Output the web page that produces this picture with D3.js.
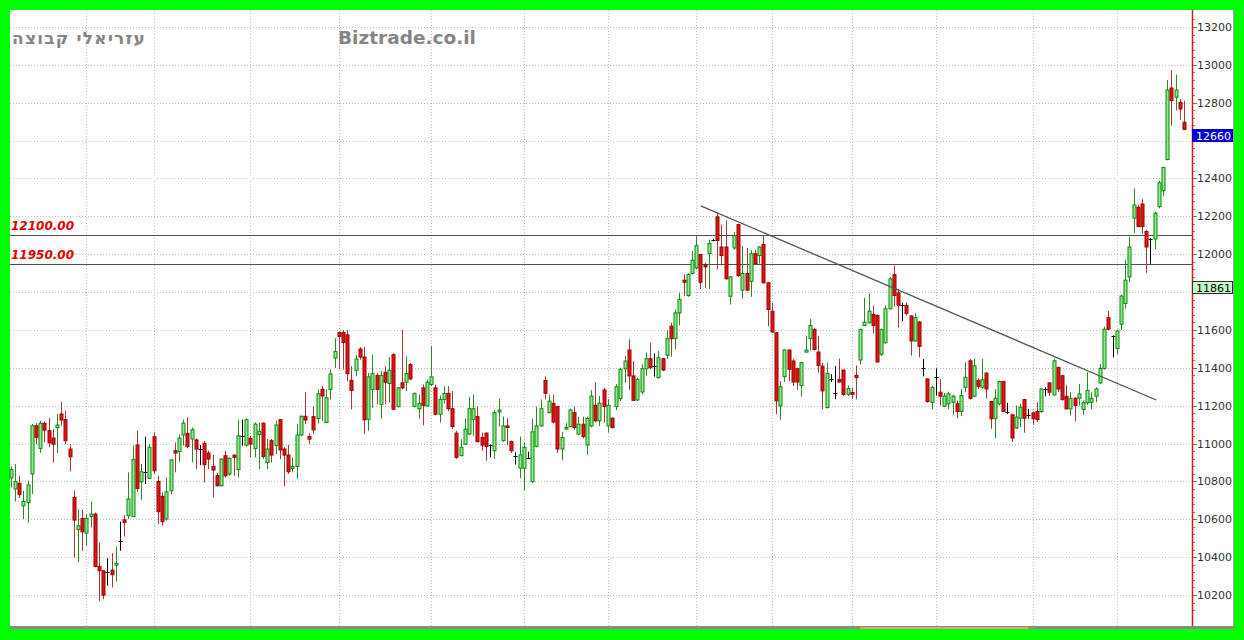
<!DOCTYPE html>
<html><head><meta charset="utf-8">
<script src="https://cdn.jsdelivr.net/npm/d3@7"></script>
<style>body{margin:0;background:#00ff00;overflow:hidden}svg{display:block}</style>
</head><body><svg id="c" width="1244" height="640"></svg>
<script>
// ---- data ----
const opens = [10818,10760,10790,10671,10689,10839,11094,10974,11107,11068,11029,11084,11156,11126,10971,10715,10545,10604,10527,10615,10627,10351,10328,10320,10331,10358,10485,10597,10619,10615,10992,10798,10851,10816,11036,10800,10721,10601,10751,10962,10957,11045,11054,11024,11019,10971,11001,10950,10879,10830,10777,10936,10839,10939,10862,11041,10992,11027,10974,11047,11107,10900,11015,10989,11126,10971,10939,10869,10879,11045,11144,11037,11142,11132,11286,11111,11286,11452,11586,11586,11574,11334,11387,11499,11457,11128,11286,11359,11207,11376,11317,11469,11195,11321,11324,11417,11195,11184,11294,11198,11312,11294,11155,11233,11265,11184,11055,10936,10997,11050,11128,11142,11032,11055,10992,10962,11167,11015,11093,11010,10933,10870,10870,10926,10800,10985,11093,11333,11163,11212,11195,10971,11076,11090,11163,11050,11102,10992,11093,11202,11120,11283,11093,11134,11195,11237,11395,11494,11357,11230,11272,11395,11448,11410,11348,11448,11466,11620,11554,11690,11863,11782,11898,11928,11998,11945,12003,12074,12197,12038,12038,11778,12033,12156,11810,11898,11857,12003,11993,12051,11849,11699,11585,11199,11353,11494,11436,11395,11307,11483,11554,11603,11483,11409,11190,11339,11269,11339,11388,11260,11269,11360,11441,11624,11638,11682,11676,11471,11532,11712,11892,11796,11730,11730,11674,11542,11642,11398,11341,11218,11349,11271,11197,11210,11218,11210,11169,11297,11437,11250,11332,11297,11372,11222,11131,11210,11327,11166,11152,11082,11134,11232,11152,11162,11169,11169,11288,11320,11257,11402,11358,11250,11183,11239,11239,11180,11215,11218,11250,11320,11397,11665,11568,11502,11630,11740,11880,12190,12248,12265,12120,12079,12080,12251,12335,12500,12878,12829,12802,12697];
const highs = [10879,10892,10830,10751,10804,11103,11107,11121,11115,11135,11077,11156,11221,11174,10997,10751,10654,10650,10627,10693,10636,10478,10333,10395,10421,10456,10587,10622,10848,10989,11068,10892,11036,10997,11059,10830,10742,10821,10918,11006,11050,11126,11138,11085,11027,10992,11015,10962,10939,10844,10922,10962,10927,10942,11126,11126,11133,11041,11112,11112,11112,11024,11024,11121,11130,10980,10992,10927,11103,11148,11270,11055,11195,11286,11303,11286,11390,11556,11591,11600,11600,11408,11469,11509,11509,11373,11469,11373,11382,11408,11457,11478,11298,11600,11460,11425,11268,11259,11312,11338,11516,11312,11254,11303,11303,11277,11067,11023,11132,11247,11259,11195,11058,11058,10995,11177,11237,11142,11132,11015,10954,11037,11006,10957,11132,11195,11233,11355,11259,11259,11198,11062,11107,11184,11195,11142,11142,11142,11282,11324,11251,11295,11234,11137,11313,11401,11462,11550,11436,11348,11418,11480,11532,11476,11488,11452,11599,11638,11708,11796,11893,11901,12016,12098,12002,11954,12077,12081,12214,12156,12179,11884,12116,12161,12042,12033,12021,12024,12042,12098,11852,11743,11590,11330,11497,11497,11445,11401,11431,11568,11659,11611,11568,11427,11427,11366,11409,11448,11390,11307,11295,11413,11606,11770,11792,11729,11682,11606,11729,11880,11940,11817,11744,11744,11677,11691,11647,11446,11345,11306,11397,11341,11267,11274,11257,11227,11288,11428,11446,11449,11345,11446,11376,11225,11288,11332,11332,11215,11157,11201,11210,11236,11183,11169,11218,11292,11297,11323,11446,11407,11362,11310,11271,11245,11315,11227,11376,11271,11297,11420,11618,11700,11572,11600,11787,11971,12090,12347,12260,12290,12129,12085,12225,12388,12461,12920,12972,12948,12820,12811];
const lows = [10768,10693,10712,10601,10583,10733,10997,10950,11006,10980,10900,10950,11094,10997,10853,10398,10372,10434,10460,10557,10346,10169,10178,10249,10240,10271,10434,10509,10601,10610,10745,10703,10786,10812,10839,10574,10566,10592,10733,10848,10904,10989,10974,10900,10865,10886,10795,10865,10715,10774,10774,10821,10830,10830,10821,10989,10985,10927,10927,10865,10918,10865,10900,10945,10918,10774,10839,10848,10812,11038,11103,10997,11050,11107,11120,11108,11233,11399,11394,11390,11329,11181,11355,11443,11050,11067,11189,11207,11132,11207,11216,11177,11190,11286,11277,11334,11192,11132,11097,11193,11303,11149,11111,11212,11172,11076,10919,10933,10992,11044,11041,11006,10962,10910,10927,10919,11090,11010,10992,10950,10889,10817,10753,10919,10793,10980,11090,11233,11160,11107,10950,10910,11072,11085,11072,11044,11027,10940,11085,11111,11093,11111,11058,11079,11177,11225,11322,11283,11225,11225,11260,11357,11392,11353,11343,11383,11445,11459,11497,11624,11778,11775,11893,11919,11817,11822,11817,12068,11919,11940,11866,11734,12024,11880,11764,11805,11775,11945,11951,11845,11620,11585,11155,11125,11325,11330,11304,11283,11248,11480,11491,11491,11374,11181,11185,11325,11234,11322,11251,11251,11234,11234,11418,11622,11634,11582,11427,11462,11529,11708,11723,11612,11647,11677,11464,11537,11455,11355,11215,11180,11253,11201,11192,11183,11152,11134,11145,11271,11232,11245,11288,11288,11239,11078,11029,11201,11166,11157,11008,11078,11087,11057,11131,11099,11113,11162,11250,11253,11253,11271,11227,11180,11148,11117,11201,11152,11204,11180,11218,11315,11390,11600,11455,11472,11600,11712,11852,12111,12143,12108,11901,11950,12027,12242,12307,12496,12680,12759,12710,12655];
const closes = [10862,10800,10730,10694,10781,11094,11033,11107,11071,11003,10997,11098,11124,11015,10930,10596,10566,10534,10604,10627,10351,10328,10199,10320,10307,10367,10485,10583,10707,10915,10763,10851,10851,10980,10856,10640,10587,10745,10913,10950,11029,11108,10985,11073,10971,10971,10888,10918,10860,10777,10918,10830,10922,10927,11041,11041,11126,10997,11103,11063,10932,10971,10939,11098,10966,10939,10851,10879,11045,11144,11124,11023,11072,11263,11251,11242,11368,11486,11565,11534,11369,11280,11446,11457,11125,11352,11369,11286,11359,11324,11387,11181,11294,11294,11369,11341,11265,11212,11202,11324,11352,11155,11233,11265,11184,11090,10927,10980,11076,11184,11184,11010,10992,10985,10992,11163,11177,11093,11085,10962,10933,10940,10980,10926,11062,11093,11184,11265,11224,11114,10971,11032,11085,11177,11085,11102,11037,11132,11251,11120,11213,11195,11202,11084,11300,11392,11436,11357,11228,11339,11395,11448,11401,11410,11453,11388,11554,11554,11690,11761,11852,11893,11968,12045,11852,11933,12056,12074,12073,11993,11870,11880,12098,11887,11898,11810,12003,11951,12038,11849,11708,11589,11225,11300,11494,11392,11325,11325,11427,11494,11624,11497,11413,11278,11371,11339,11269,11325,11260,11290,11260,11348,11603,11641,11699,11624,11431,11603,11712,11870,11782,11730,11730,11688,11542,11665,11513,11398,11222,11297,11349,11250,11250,11262,11250,11169,11253,11350,11239,11411,11302,11337,11288,11131,11239,11327,11169,11166,11029,11140,11192,11134,11152,11131,11127,11288,11288,11271,11437,11288,11232,11183,11239,11201,11262,11215,11280,11239,11288,11397,11604,11604,11568,11595,11779,11863,12038,12260,12146,12146,12038,12079,12216,12377,12458,12867,12811,12867,12767,12660];
const monthStarts = [18,34,57,78,100,122,142,163,181,200,220,243,263];
const yTicks = [10200,10400,10600,10800,11000,11200,11400,11600,11800,12000,12200,12400,12600,12800,13000,13200];
const levels = [12100, 11950];
const levelLabels = ["12100.00", "11950.00"];
const trendIdx = [164.1, 272.4];
const trendVal = [12255, 11230];
const lastPrice = 12660;
const markerValue = 11861;
const titleText = "עזריאלי קבוצה";
const siteText = "Biztrade.co.il";

// ---- layout ----
const svg = d3.select("#c");
const L = 10, T = 10, R = 1192, B = 626, PR = 1233;
const N = closes.length;
const x = d3.scaleLinear().domain([0, N - 1]).range([10.7, 1184]);
const y = d3.scaleLinear().domain([10200, 13200]).range([595, 27]);

svg.append("rect").attr("x", L).attr("y", T).attr("width", PR - L).attr("height", B - T).attr("fill", "#fff");

// grid
const g = svg.append("g");
g.selectAll("line.h").data(yTicks).join("line")
  .attr("x1", L).attr("x2", R).attr("y1", d => Math.round(y(d)) + 0.5).attr("y2", d => Math.round(y(d)) + 0.5)
  .attr("stroke", "#bdbdbd").attr("stroke-dasharray", "1,2");
g.selectAll("line.v").data(monthStarts).join("line")
  .attr("y1", T).attr("y2", B).attr("x1", d => Math.round(x(d)) + 0.5).attr("x2", d => Math.round(x(d)) + 0.5)
  .attr("stroke", "#bdbdbd").attr("stroke-dasharray", "1,2");

// level lines
svg.selectAll("line.lvl").data(levels).join("line")
  .attr("x1", L).attr("x2", R).attr("y1", d => Math.round(y(d)) + 0.5).attr("y2", d => Math.round(y(d)) + 0.5)
  .attr("stroke", "#505050").attr("stroke-width", 1.2);
svg.selectAll("text.lvl").data(levels).join("text")
  .attr("x", 11).attr("y", d => y(d) - 5)
  .attr("font-family", "DejaVu Sans, Verdana, sans-serif").attr("font-size", 12)
  .attr("font-weight", "bold").attr("font-style", "italic").attr("fill", "#e00000")
  .text((d, i) => levelLabels[i]);

// candles
const data = closes.map((c, i) => ({ i, o: opens[i], h: highs[i], l: lows[i], c }));
const col = d => d.c > d.o ? "up" : (d.c < d.o ? "down" : "flat");
const wickColor = { up: "#2a8a2a", down: "#a83a3a", flat: "#000" };
const cg = svg.append("g");
cg.selectAll("line.w").data(data).join("line")
  .attr("x1", d => Math.round(x(d.i)) + 0.5).attr("x2", d => Math.round(x(d.i)) + 0.5)
  .attr("y1", d => y(d.h)).attr("y2", d => y(d.l))
  .attr("stroke", d => wickColor[col(d)]).attr("stroke-width", 1);
const bw = 3;
cg.selectAll("rect.b").data(data.filter(d => col(d) !== "flat")).join("rect")
  .attr("x", d => Math.round(x(d.i)) + 0.5 - bw / 2)
  .attr("width", bw)
  .attr("y", d => y(Math.max(d.o, d.c)))
  .attr("height", d => Math.max(1, Math.abs(y(d.o) - y(d.c))))
  .attr("fill", d => col(d) === "up" ? "#90e890" : "#dd1515")
  .attr("stroke", d => col(d) === "up" ? "#0a8a0a" : "#a00000").attr("stroke-width", 1);
cg.selectAll("line.f").data(data.filter(d => col(d) === "flat")).join("line")
  .attr("x1", d => Math.round(x(d.i)) - 1.5).attr("x2", d => Math.round(x(d.i)) + 2.5)
  .attr("y1", d => Math.round(y(d.o)) + 0.5).attr("y2", d => Math.round(y(d.o)) + 0.5)
  .attr("stroke", "#000");

// trend line
svg.append("line")
  .attr("x1", x(trendIdx[0])).attr("y1", y(trendVal[0]))
  .attr("x2", x(trendIdx[1])).attr("y2", y(trendVal[1]))
  .attr("stroke", "#555").attr("stroke-width", 1.3);

// right axis
const ax = svg.append("g");
ax.append("rect").attr("x", R).attr("y", T).attr("width", PR - R).attr("height", B - T).attr("fill", "#fff");
ax.append("line").attr("x1", PR + 0.5).attr("x2", PR + 0.5).attr("y1", T).attr("y2", B + 2).attr("stroke", "#a0a0a0");
const minor = d3.range(10120, 13280, 40);
ax.selectAll("line.mn").data(minor).join("line")
  .attr("x1", R).attr("x2", R + 3).attr("y1", d => Math.round(y(d)) + 0.5).attr("y2", d => Math.round(y(d)) + 0.5)
  .attr("stroke", "#e06060");
ax.selectAll("line.mj").data(yTicks).join("line")
  .attr("x1", R).attr("x2", R + 5).attr("y1", d => Math.round(y(d)) + 0.5).attr("y2", d => Math.round(y(d)) + 0.5)
  .attr("stroke", "#777");
// tick labels hidden underneath the price boxes are left out (they are covered in the original)
const boxVals = [lastPrice, markerValue];
const visibleTicks = yTicks.filter(t => !boxVals.some(v => y(t) + 5 > y(v) && y(t) - 5 < y(v) + 13));
ax.selectAll("text.t").data(visibleTicks).join("text")
  .attr("x", 1197).attr("y", d => y(d) + 4)
  .attr("font-family", "DejaVu Sans, Verdana, sans-serif").attr("font-size", 11).attr("fill", "#333")
  .text(d => d);
ax.append("line").attr("x1", R + 0.5).attr("x2", R + 0.5).attr("y1", T).attr("y2", B + 2)
  .attr("stroke", "#cc2020").attr("stroke-width", 1.5);

// price labels
function priceBox(v, fill, stroke, tc) {
  const yy = Math.round(y(v));
  ax.append("rect").attr("x", R + 0.5).attr("y", yy + 0.5).attr("width", PR - R - 1).attr("height", 12)
    .attr("fill", fill).attr("stroke", stroke);
  ax.append("text").attr("x", 1196).attr("y", yy + 10.5)
    .attr("font-family", "DejaVu Sans, Verdana, sans-serif").attr("font-size", 11).attr("fill", tc).text(v);
}
priceBox(lastPrice, "#0000dd", "#0000aa", "#fff");
priceBox(markerValue, "#c8f8c8", "#303030", "#000");

// bottom bar
svg.append("rect").attr("x", L).attr("y", B).attr("width", PR - L + 1).attr("height", 3).attr("fill", "#8a8a8a");
svg.append("rect").attr("x", x(202)).attr("y", B + 1).attr("width", x(242) - x(202)).attr("height", 2).attr("fill", "#e0a878");

// titles
svg.append("text").attr("x", 12).attr("y", 44)
  .attr("font-family", "DejaVu Sans, sans-serif").attr("font-size", 17).attr("font-weight", "bold")
  .attr("letter-spacing", 1.2)
  .attr("fill", "#858585").text(titleText);
svg.append("text").attr("x", 338).attr("y", 44)
  .attr("font-family", "DejaVu Sans, Verdana, sans-serif").attr("font-size", 18.5).attr("font-weight", "bold")
  .attr("fill", "#858585").text(siteText);
</script></body></html>
